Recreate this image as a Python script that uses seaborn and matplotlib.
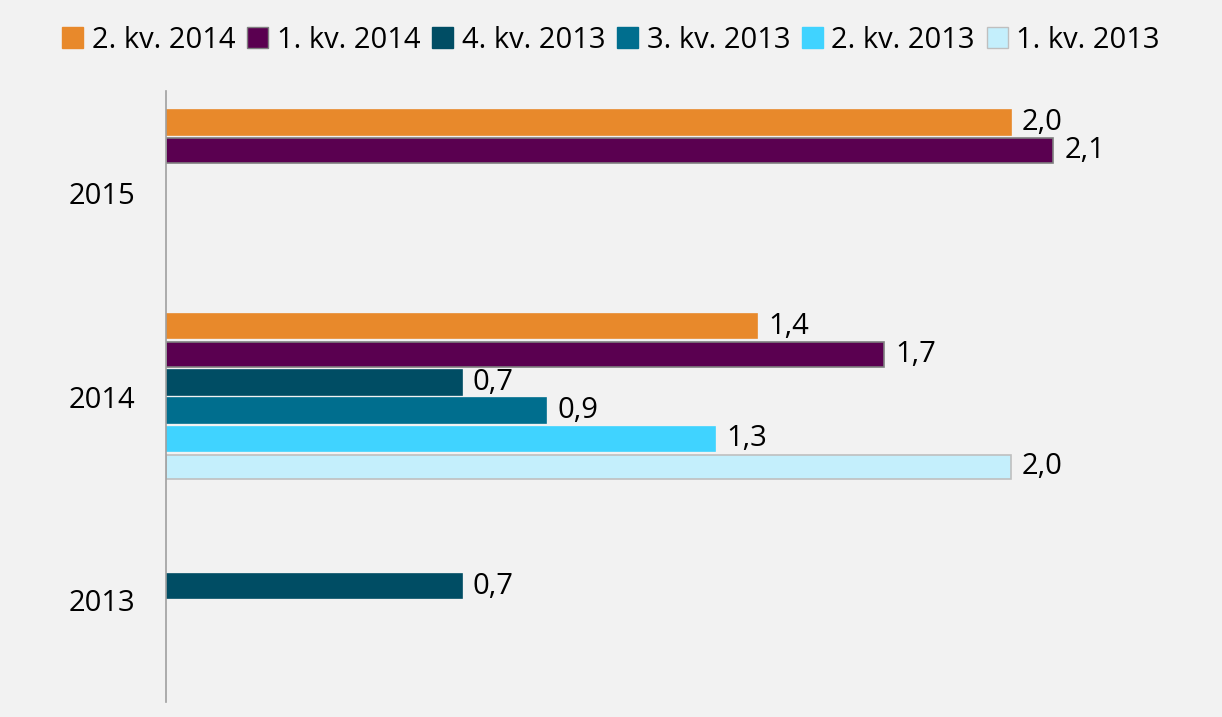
import matplotlib
matplotlib.use("Agg")
import matplotlib.pyplot as plt
import numpy as np
import pandas as pd
import seaborn as sns

# data
years = ["2015", "2014", "2013"]
quarters = ["2. kv. 2014", "1. kv. 2014", "4. kv. 2013", "3. kv. 2013", "2. kv. 2013", "1. kv. 2013"]
values_2015 = [2.0, 2.1, np.nan, np.nan, np.nan, np.nan]
values_2014 = [1.4, 1.7, 0.7, 0.9, 1.3, 2.0]
values_2013 = [np.nan, np.nan, 0.7, np.nan, np.nan, np.nan]
colors = ["#E8892B", "#5A0050", "#004D64", "#006E8E", "#40D3FF", "#C4EFFC"]
edges = ["#E8892B", "#7f7f7f", "#004D64", "#006E8E", "#40D3FF", "#bfbfbf"]

rows = []
for year, vals in zip(years, [values_2015, values_2014, values_2013]):
    for q, v in zip(quarters, vals):
        if not np.isnan(v):
            rows.append({"year": year, "quarter": q, "value": v})
df = pd.DataFrame(rows)

bg = "#f2f2f2"
sns.set_style("white", {"axes.facecolor": bg, "figure.facecolor": bg, "text.color": "black"})
plt.rcParams["font.family"] = ["Open Sans", "DejaVu Sans"]
plt.rcParams["text.color"] = "black"

fig = plt.figure(figsize=(12.22, 7.17), dpi=100)
ax = fig.add_axes([0.136, 0.021, 0.864, 0.852])

sns.barplot(
    data=df, y="year", x="value", hue="quarter", order=years, hue_order=quarters,
    palette=colors, saturation=1, orient="h", width=0.83, gap=0.13, legend=False, ax=ax,
    linewidth=1.2,
)
for cont, ec in zip(ax.containers, edges):
    for bar in cont:
        bar.set_edgecolor(ec)
    labels = [f"{v:.1f}".replace(".", ",") for v in cont.datavalues]
    ax.bar_label(cont, labels=labels, padding=8, fontsize=21, color="black")

ax.set_xlim(0, 2.5)
ax.set_ylim(2.5, -0.5)
ax.set_xlabel("")
ax.set_ylabel("")
ax.set_xticks([])
ax.tick_params(axis="y", length=0, pad=22, labelsize=21, labelcolor="black")
for side in ["top", "right", "bottom"]:
    ax.spines[side].set_visible(False)
ax.spines["left"].set_color("#a0a0a0")
ax.spines["left"].set_linewidth(1.2)

handles = [plt.Rectangle((0, 0), 1, 1, facecolor=c, edgecolor=e, linewidth=1) for c, e in zip(colors, edges)]
fig.legend(
    handles, quarters, loc="center", bbox_to_anchor=(0.5, 0.944), ncol=6, frameon=False,
    fontsize=21, handlelength=0.72, handleheight=0.72, handletextpad=0.3, columnspacing=0.4,
    labelcolor="black",
)

fig.savefig("out.png", dpi=100, facecolor=bg)
